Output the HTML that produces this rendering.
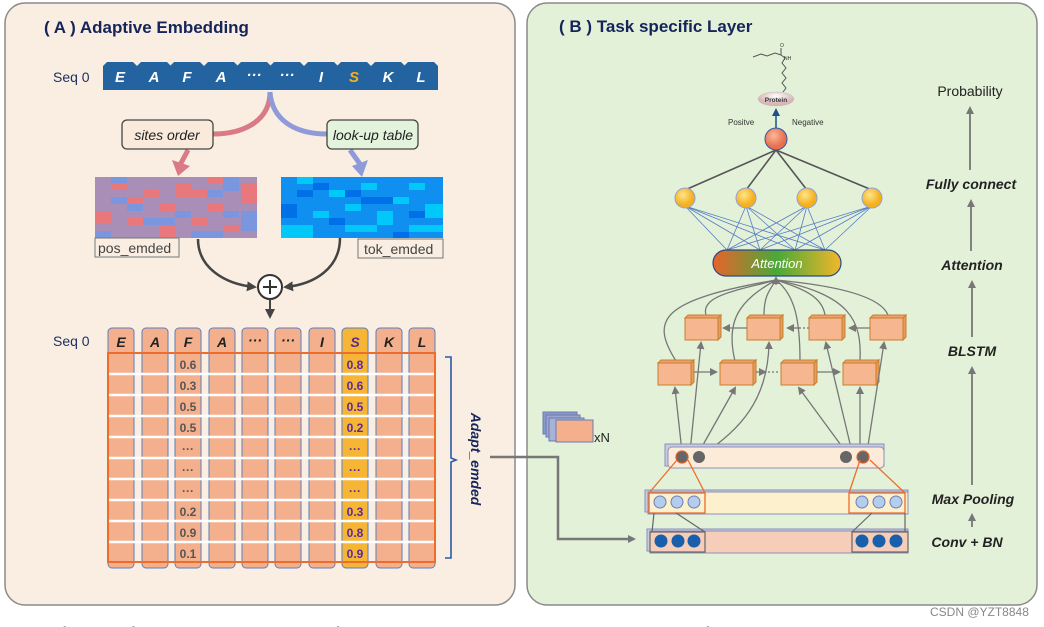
<!DOCTYPE html>
<html><head><meta charset="utf-8"><style>
html,body{margin:0;padding:0;background:#fff;width:1044px;height:627px;overflow:hidden}
svg{display:block}
text{font-family:"Liberation Sans",sans-serif}
</style></head><body>
<svg width="1044" height="627" viewBox="0 0 1044 627" xmlns="http://www.w3.org/2000/svg">
<defs>
<marker id="ag" markerWidth="8" markerHeight="8" refX="6" refY="4" orient="auto" markerUnits="userSpaceOnUse"><path d="M0,0 L8,4 L0,8 z" fill="#777"/></marker>
<marker id="ad" markerWidth="10" markerHeight="10" refX="7" refY="5" orient="auto" markerUnits="userSpaceOnUse"><path d="M0,0 L10,5 L0,10 z" fill="#444"/></marker>
<marker id="ab" markerWidth="8" markerHeight="8" refX="6" refY="4" orient="auto" markerUnits="userSpaceOnUse"><path d="M0,0 L8,4 L0,8 z" fill="#1f4e8a"/></marker>
<linearGradient id="att" x1="0" x2="1"><stop offset="0" stop-color="#e8642a"/><stop offset="0.5" stop-color="#4aa83a"/><stop offset="1" stop-color="#f2b72a"/></linearGradient>
<radialGradient id="yc" cx="0.4" cy="0.35"><stop offset="0" stop-color="#ffe58a"/><stop offset="1" stop-color="#f4b01e"/></radialGradient>
<radialGradient id="rc" cx="0.4" cy="0.35"><stop offset="0" stop-color="#fbb89a"/><stop offset="1" stop-color="#e8704e"/></radialGradient>
<radialGradient id="pc" cx="0.5" cy="0.3"><stop offset="0" stop-color="#fff"/><stop offset="1" stop-color="#d9b7b7"/></radialGradient>
</defs>

<rect x="5" y="3" width="510" height="602" rx="20" fill="#f9eee1" stroke="#8a8a8a" stroke-width="1.5"/>
<rect x="527" y="3" width="510" height="602" rx="20" fill="#e4f1d9" stroke="#8a8a8a" stroke-width="1.5"/>
<text x="44" y="33" font-size="17" font-weight="bold" fill="#15255a">( A )  Adaptive Embedding</text>
<text x="559" y="32" font-size="17" font-weight="bold" fill="#15255a">( B )  Task specific Layer</text>

<text x="53" y="82" font-size="14" fill="#1d2f5e">Seq 0</text>
<g fill="#2363a0">
<path d="M103,66 l4,-4 h26 l4,4 v24 h-34z"/><path d="M137,66 l4,-4 h26 l4,4 v24 h-34z"/>
<path d="M170,66 l4,-4 h26 l4,4 v24 h-34z"/><path d="M204,66 l4,-4 h26 l4,4 v24 h-34z"/>
<path d="M237,66 l4,-4 h26 l4,4 v24 h-34z"/><path d="M270,66 l4,-4 h26 l4,4 v24 h-34z"/>
<path d="M304,66 l4,-4 h26 l4,4 v24 h-34z"/><path d="M337,66 l4,-4 h26 l4,4 v24 h-34z"/>
<path d="M371,66 l4,-4 h26 l4,4 v24 h-34z"/><path d="M404,66 l4,-4 h26 l4,4 v24 h-34z"/>
</g>
<g font-size="15" font-weight="bold" font-style="italic" fill="#fff" text-anchor="middle">
<text x="120" y="82">E</text><text x="154" y="82">A</text><text x="187" y="82">F</text><text x="221" y="82">A</text>
<text x="254" y="80">···</text><text x="287" y="80">···</text><text x="321" y="82">I</text>
<text x="354" y="82" fill="#f5b020">S</text><text x="388" y="82">K</text><text x="421" y="82">L</text>
</g>

<path d="M270,92 C270,120 245,134 213,134" fill="none" stroke="#d97a86" stroke-width="5"/>
<path d="M270,92 C272,120 295,134 327,134" fill="none" stroke="#8e9bd8" stroke-width="5"/>
<path d="M188,150 L180,165" stroke="#d97a86" stroke-width="5"/>
<path d="M172,160 L178,176 L190,166z" fill="#d97a86"/>
<path d="M350,150 L360,164" stroke="#8e9bd8" stroke-width="5"/>
<path d="M352,166 L362,177 L368,160z" fill="#8e9bd8"/>
<rect x="122" y="120" width="91" height="29" rx="5" fill="#f9eadb" stroke="#444" stroke-width="1.3"/>
<text x="167" y="140" font-size="14" font-style="italic" fill="#222" text-anchor="middle">sites order</text>
<rect x="327" y="120" width="91" height="29" rx="5" fill="#e3f3dc" stroke="#444" stroke-width="1.3"/>
<text x="373" y="140" font-size="14" font-style="italic" fill="#222" text-anchor="middle">look-up table</text>

<rect x="95" y="177" width="162" height="61" fill="#a98eb8"/>
<g fill="#e8787c">
<rect x="111" y="183" width="16" height="7"/><rect x="175" y="183" width="16" height="14"/><rect x="95" y="211" width="16" height="13"/><rect x="127" y="197" width="16" height="7"/><rect x="159" y="204" width="16" height="7"/><rect x="191" y="190" width="16" height="7"/><rect x="207" y="204" width="16" height="7"/><rect x="241" y="183" width="16" height="20"/><rect x="223" y="225" width="16" height="6"/><rect x="159" y="225" width="16" height="13"/><rect x="127" y="218" width="16" height="7"/><rect x="191" y="218" width="16" height="7"/><rect x="143" y="190" width="16" height="7"/><rect x="207" y="177" width="16" height="6"/>
</g>
<g fill="#7a96de">
<rect x="111" y="177" width="16" height="6"/><rect x="223" y="177" width="16" height="14"/><rect x="127" y="204" width="16" height="7"/><rect x="143" y="218" width="32" height="7"/><rect x="207" y="190" width="16" height="7"/><rect x="95" y="231" width="16" height="7"/><rect x="175" y="211" width="16" height="7"/><rect x="241" y="211" width="16" height="20"/><rect x="223" y="211" width="16" height="7"/><rect x="111" y="197" width="16" height="7"/><rect x="191" y="231" width="32" height="7"/>
</g>
<rect x="281" y="177" width="162" height="61" fill="#0f8ff0"/>
<g fill="#00c8f8">
<rect x="297" y="177" width="16" height="7"/><rect x="329" y="190" width="16" height="7"/><rect x="361" y="183" width="16" height="7"/><rect x="393" y="197" width="16" height="7"/><rect x="425" y="204" width="18" height="14"/><rect x="313" y="211" width="16" height="7"/><rect x="281" y="225" width="32" height="13"/><rect x="377" y="211" width="16" height="14"/><rect x="345" y="225" width="32" height="7"/><rect x="409" y="183" width="16" height="7"/><rect x="409" y="225" width="34" height="7"/><rect x="345" y="204" width="16" height="7"/>
</g>
<g fill="#0070e8">
<rect x="297" y="190" width="16" height="7"/><rect x="281" y="204" width="16" height="14"/><rect x="345" y="190" width="16" height="7"/><rect x="361" y="197" width="32" height="7"/><rect x="409" y="211" width="16" height="7"/><rect x="329" y="218" width="16" height="7"/><rect x="393" y="232" width="16" height="6"/><rect x="313" y="183" width="16" height="7"/>
</g>
<rect x="95" y="238" width="84" height="19" fill="#f9eee1" stroke="#777" stroke-width="1"/>
<text x="98" y="253" font-size="14" fill="#444">pos_emded</text>
<rect x="358" y="239" width="85" height="19" fill="#f9eee1" stroke="#777" stroke-width="1"/>
<text x="364" y="254" font-size="14" fill="#444">tok_emded</text>

<path d="M198,239 C198,268 225,284 254,287" fill="none" stroke="#444" stroke-width="2.5" marker-end="url(#ad)"/>
<path d="M340,238 C340,268 315,284 286,287" fill="none" stroke="#444" stroke-width="2.5" marker-end="url(#ad)"/>
<circle cx="270" cy="287" r="12" fill="#fff" stroke="#333" stroke-width="2"/>
<path d="M263,287 h14 M270,280 v14" stroke="#333" stroke-width="2"/>
<path d="M270,299 V316" stroke="#444" stroke-width="2" marker-end="url(#ad)"/>

<text x="53" y="346" font-size="14" fill="#1d2f5e">Seq 0</text>
<g fill="#f4b08c" stroke="#5b7fbf" stroke-width="1">
<rect x="108" y="328" width="26" height="240" rx="4"/><rect x="142" y="328" width="26" height="240" rx="4"/>
<rect x="175" y="328" width="26" height="240" rx="4"/><rect x="209" y="328" width="26" height="240" rx="4"/>
<rect x="242" y="328" width="26" height="240" rx="4"/><rect x="275" y="328" width="26" height="240" rx="4"/>
<rect x="309" y="328" width="26" height="240" rx="4"/><rect x="342" y="328" width="26" height="240" rx="4" fill="#f6b535"/>
<rect x="376" y="328" width="26" height="240" rx="4"/><rect x="409" y="328" width="26" height="240" rx="4"/>
</g>
<g stroke="#fff" stroke-width="2.5">
<line x1="108" y1="374" x2="435" y2="374"/><line x1="108" y1="395" x2="435" y2="395"/><line x1="108" y1="416" x2="435" y2="416"/><line x1="108" y1="437" x2="435" y2="437"/><line x1="108" y1="458" x2="435" y2="458"/><line x1="108" y1="479" x2="435" y2="479"/><line x1="108" y1="500" x2="435" y2="500"/><line x1="108" y1="521" x2="435" y2="521"/><line x1="108" y1="542" x2="435" y2="542"/>
</g>
<rect x="108" y="353" width="327" height="209" fill="none" stroke="#ec6d2c" stroke-width="2"/>
<g font-size="14" font-weight="bold" font-style="italic" fill="#222" text-anchor="middle">
<text x="121" y="347">E</text><text x="155" y="347">A</text><text x="188" y="347">F</text><text x="222" y="347">A</text>
<text x="255" y="345">···</text><text x="288" y="345">···</text><text x="322" y="347">I</text>
<text x="355" y="347" fill="#5a2a9a">S</text><text x="389" y="347">K</text><text x="422" y="347">L</text>
</g>
<g font-size="12" font-weight="bold" fill="#555" text-anchor="middle">
<text x="188" y="369">0.6</text><text x="188" y="390">0.3</text><text x="188" y="411">0.5</text><text x="188" y="432">0.5</text>
<text x="188" y="453">···</text><text x="188" y="474">···</text><text x="188" y="495">···</text>
<text x="188" y="516">0.2</text><text x="188" y="537">0.9</text><text x="188" y="558">0.1</text>
</g>
<g font-size="12" font-weight="bold" fill="#5a2a9a" text-anchor="middle">
<text x="355" y="369">0.8</text><text x="355" y="390">0.6</text><text x="355" y="411">0.5</text><text x="355" y="432">0.2</text>
<text x="355" y="453">···</text><text x="355" y="474">···</text><text x="355" y="495">···</text>
<text x="355" y="516">0.3</text><text x="355" y="537">0.8</text><text x="355" y="558">0.9</text>
</g>
<path d="M445,357 h6 v101 l5,2 l-5,2 v96 h-6" fill="none" stroke="#2a5aa8" stroke-width="1.6"/>
<text transform="translate(471,459) rotate(90)" font-size="14" font-weight="bold" font-style="italic" fill="#15255a" text-anchor="middle">Adapt_emded</text>

<path d="M490,457 H558 V539 H634" fill="none" stroke="#777" stroke-width="2.5" marker-end="url(#ag)"/>

<rect x="543" y="412" width="34" height="22" fill="#8a9ac8" stroke="#6a7ab0"/>
<rect x="546" y="415" width="34" height="22" fill="#98a6d0" stroke="#6a7ab0"/>
<rect x="549" y="418" width="35" height="23" fill="#a8b2d6" stroke="#6a7ab0"/>
<rect x="556" y="420" width="37" height="22" fill="#f4b08c" stroke="#6a7ab0"/>
<text x="594" y="442" font-size="13" fill="#222">xN</text>

<g fill="none" stroke="#555" stroke-width="1">
<path d="M753,57 l8,-3 l6,2 l8,-3 l6,2"/><path d="M781,55 v-7"/><path d="M781,55 l4,3 l-3,5 l4,5 l-4,5 l4,5 l-4,5 l4,5 l-3,4"/>
</g>
<text x="780" y="47" font-size="5" fill="#333">O</text><text x="784" y="60" font-size="5" fill="#333">NH</text>
<ellipse cx="776" cy="99" rx="18" ry="7" fill="url(#pc)" stroke="#bbb" stroke-width="0.5"/>
<text x="776" y="102" font-size="6.5" font-weight="bold" fill="#333" text-anchor="middle">Protein</text>
<path d="M776,128 V110" stroke="#1f4e8a" stroke-width="1.5" marker-end="url(#ab)"/>
<text x="728" y="125" font-size="8" fill="#333">Positve</text>
<text x="792" y="125" font-size="8" fill="#333">Negative</text>

<g stroke="#555" stroke-width="1.6">
<line x1="776" y1="150" x2="685" y2="190"/><line x1="776" y1="150" x2="746" y2="190"/><line x1="776" y1="150" x2="807" y2="190"/><line x1="776" y1="150" x2="872" y2="190"/>
</g>
<g stroke="#3a68c0" stroke-width="0.8" opacity="0.85">
<line x1="685" y1="206" x2="727" y2="250"/><line x1="685" y1="206" x2="760" y2="250"/><line x1="685" y1="206" x2="795" y2="250"/><line x1="685" y1="206" x2="825" y2="250"/>
<line x1="746" y1="206" x2="727" y2="250"/><line x1="746" y1="206" x2="760" y2="250"/><line x1="746" y1="206" x2="795" y2="250"/><line x1="746" y1="206" x2="825" y2="250"/>
<line x1="807" y1="206" x2="727" y2="250"/><line x1="807" y1="206" x2="760" y2="250"/><line x1="807" y1="206" x2="795" y2="250"/><line x1="807" y1="206" x2="825" y2="250"/>
<line x1="872" y1="206" x2="727" y2="250"/><line x1="872" y1="206" x2="760" y2="250"/><line x1="872" y1="206" x2="795" y2="250"/><line x1="872" y1="206" x2="825" y2="250"/>
</g>
<circle cx="776" cy="139" r="11" fill="url(#rc)" stroke="#2a5aa8" stroke-width="1"/>
<g fill="url(#yc)" stroke="#8fa0d8" stroke-width="1">
<circle cx="685" cy="198" r="10"/><circle cx="746" cy="198" r="10"/><circle cx="807" cy="198" r="10"/><circle cx="872" cy="198" r="10"/>
</g>
<rect x="713" y="250" width="128" height="26" rx="13" fill="url(#att)" stroke="#2a4a8a" stroke-width="1.2"/>
<text x="777" y="268" font-size="13" font-style="italic" fill="#fff" text-anchor="middle">Attention</text>

<g fill="none" stroke="#777" stroke-width="1.3">
<path d="M676,361 C650,320 660,300 776,280"/><path d="M706,315 C700,295 740,290 776,280"/><path d="M735,361 C725,320 740,300 776,280"/><path d="M764,315 C764,295 770,290 776,280"/>
<path d="M800,361 C800,320 795,295 776,280"/><path d="M825,315 C822,295 800,288 776,280"/><path d="M860,361 C862,320 850,295 776,280"/><path d="M888,315 C880,295 830,285 776,280"/>
</g>
<path d="M776,285 V278" stroke="#777" stroke-width="1.3" marker-end="url(#ag)"/>
<g fill="#f5b690" stroke="#c8802a" stroke-width="1">
<path d="M685,318 l3,-3 h33 l-3,3z" fill="#f0a070"/><path d="M718,318 l3,-3 v22 l-3,3z" fill="#e89a60"/><rect x="685" y="318" width="33" height="22"/>
<path d="M747,318 l3,-3 h33 l-3,3z" fill="#f0a070"/><path d="M780,318 l3,-3 v22 l-3,3z" fill="#e89a60"/><rect x="747" y="318" width="33" height="22"/>
<path d="M809,318 l3,-3 h33 l-3,3z" fill="#f0a070"/><path d="M842,318 l3,-3 v22 l-3,3z" fill="#e89a60"/><rect x="809" y="318" width="33" height="22"/>
<path d="M870,318 l3,-3 h33 l-3,3z" fill="#f0a070"/><path d="M903,318 l3,-3 v22 l-3,3z" fill="#e89a60"/><rect x="870" y="318" width="33" height="22"/>
<path d="M658,363 l3,-3 h33 l-3,3z" fill="#f0a070"/><path d="M691,363 l3,-3 v22 l-3,3z" fill="#e89a60"/><rect x="658" y="363" width="33" height="22"/>
<path d="M720,363 l3,-3 h33 l-3,3z" fill="#f0a070"/><path d="M753,363 l3,-3 v22 l-3,3z" fill="#e89a60"/><rect x="720" y="363" width="33" height="22"/>
<path d="M781,363 l3,-3 h33 l-3,3z" fill="#f0a070"/><path d="M814,363 l3,-3 v22 l-3,3z" fill="#e89a60"/><rect x="781" y="363" width="33" height="22"/>
<path d="M843,363 l3,-3 h33 l-3,3z" fill="#f0a070"/><path d="M876,363 l3,-3 v22 l-3,3z" fill="#e89a60"/><rect x="843" y="363" width="33" height="22"/>
</g>
<g stroke="#777" stroke-width="1.3" fill="none">
<path d="M747,328 H724" marker-end="url(#ag)"/><path d="M809,328 H798" stroke-dasharray="2,2"/><path d="M800,328 H788" marker-end="url(#ag)"/><path d="M870,328 H850" marker-end="url(#ag)"/>
<path d="M694,372 H716" marker-end="url(#ag)"/><path d="M756,372 H765" marker-end="url(#ag)"/><path d="M768,372 H778" stroke-dasharray="2,2"/><path d="M817,372 H839" marker-end="url(#ag)"/>
<path d="M682,452 L675,388" marker-end="url(#ag)"/><path d="M690,452 L701,343" marker-end="url(#ag)"/><path d="M699,452 L735,388" marker-end="url(#ag)"/><path d="M702,455 C740,430 768,400 769,343" marker-end="url(#ag)"/>
<path d="M846,452 L799,388" marker-end="url(#ag)"/><path d="M852,452 L826,343" marker-end="url(#ag)"/><path d="M860,452 L860,388" marker-end="url(#ag)"/><path d="M867,452 L884,343" marker-end="url(#ag)"/>
</g>

<rect x="665" y="444" width="219" height="22" fill="#c8cce0" stroke="#8a90b8"/>
<rect x="668" y="447" width="216" height="21" rx="4" fill="#fcebd8" stroke="#8a90b8"/>
<g fill="#666"><circle cx="682" cy="457" r="6" stroke="#e0602a" stroke-width="1.2"/><circle cx="699" cy="457" r="6"/><circle cx="846" cy="457" r="6"/><circle cx="863" cy="457" r="6" stroke="#e0602a" stroke-width="1.2"/></g>
<rect x="645" y="490" width="263" height="22" fill="#c8cce0" stroke="#8a90b8"/>
<rect x="648" y="492" width="260" height="22" fill="#fdf0cc" stroke="#8a90b8"/>
<rect x="647" y="529" width="261" height="22" fill="#c8cce0" stroke="#8a90b8"/>
<rect x="650" y="531" width="258" height="22" fill="#f6cdb8" stroke="#8a90b8"/>
<g fill="none" stroke="#ec6d2c" stroke-width="1.3">
<path d="M649,493 L677,460 M705,493 L688,460"/><path d="M849,493 L860,460 M905,493 L870,460"/>
<rect x="649" y="493" width="56" height="20"/><rect x="849" y="493" width="56" height="20"/>
</g>
<g fill="none" stroke="#666" stroke-width="1.2">
<rect x="650" y="532" width="55" height="20"/><rect x="852" y="532" width="56" height="20"/>
<path d="M652,532 L654,513 M705,532 L676,513 M852,532 L872,513 M905,532 L905,513"/>
</g>
<g fill="#b5cdec" stroke="#6a80b8"><circle cx="660" cy="502" r="6"/><circle cx="677" cy="502" r="6"/><circle cx="694" cy="502" r="6"/><circle cx="862" cy="502" r="6"/><circle cx="879" cy="502" r="6"/><circle cx="896" cy="502" r="6"/></g>
<g fill="#1a5fac"><circle cx="661" cy="541" r="6.5"/><circle cx="678" cy="541" r="6.5"/><circle cx="694" cy="541" r="6.5"/><circle cx="862" cy="541" r="6.5"/><circle cx="879" cy="541" r="6.5"/><circle cx="896" cy="541" r="6.5"/></g>

<text x="970" y="96" font-size="14" fill="#222" text-anchor="middle">Probability</text>
<g font-size="14" font-weight="bold" font-style="italic" fill="#222" text-anchor="middle">
<text x="971" y="189">Fully connect</text><text x="972" y="270">Attention</text><text x="972" y="356">BLSTM</text>
<text x="973" y="504">Max Pooling</text><text x="967" y="547">Conv + BN</text>
</g>
<g stroke="#777" stroke-width="1.8">
<path d="M970,170 V108" marker-end="url(#ag)"/><path d="M971,251 V201" marker-end="url(#ag)"/><path d="M972,337 V282" marker-end="url(#ag)"/>
<path d="M972,485 V368" marker-end="url(#ag)"/><path d="M972,527 V515" marker-end="url(#ag)"/>
</g>

<text x="930" y="616" font-size="12" fill="#888">CSDN @YZT8848</text>
<text x="-4" y="637" font-size="15" style="font-family:'Liberation Serif',serif" fill="#333">ure 1. The flowchart of Adapt-Kcr. Adapt-Kcr consists of two main modules: (A) an adaptive embedding module that focuses on both token embeddi</text>
</svg>
</body></html>
